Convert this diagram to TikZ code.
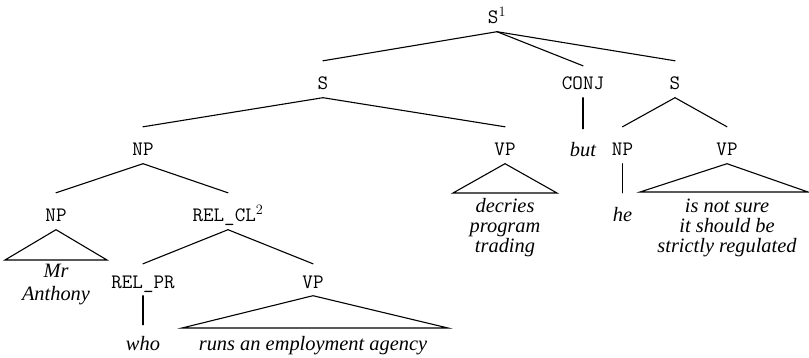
\documentclass[tikz,border=0pt]{standalone}
\usepackage{fontspec}
\newfontfamily\tms{Liberation Serif}
\newcommand\myleaffont{\fontsize{20.4}{20}\selectfont\tms\itshape\lineskiplimit=-50pt\relax}
\begin{document}
\begin{tikzpicture}[x=1pt,y=-1pt,
  lab/.style={font=\fontsize{20.5}{20}\selectfont\ttfamily, inner sep=0pt, anchor=base, text height=29pt, text depth=7.5pt},
  short/.style={text height=24pt},
  leaf/.style={font=\myleaffont, inner sep=0pt, anchor=base, align=center},
  br/.style={line width=1.1pt, line cap=round},
  tri/.style={line width=1.1pt, line join=miter}]
\useasboundingbox (0,0) rectangle (809,358);
% labels
\node[lab] (s1) at (497,24) {S\textsuperscript{\rmfamily 1}};
\node[lab] (sa) at (323,90) {S};
\node[lab, short] (conj) at (583,90) {CONJ};
\node[lab] (sb) at (675,90) {S};
\node[lab] (np1) at (143,156) {NP};
\node[lab] (vp1) at (505,156) {VP};
\node[lab] (np2) at (622.5,156) {NP};
\node[lab] (vp2) at (727,156) {VP};
\node[lab] (np3) at (56,222) {NP};
\node[lab] (rel) at (228,222) {REL\_CL\textsuperscript{\rmfamily 2}};
\node[lab, short] (relpr) at (143,288) {REL\_PR};
\node[lab, short] (vp3) at (313,288) {VP};
% leaves (base anchor = baseline of the last line)
\node[leaf, text height=28pt] (but) at (583,157) {but};
\node[leaf] (l1) at (56,301) {Mr\\[3pt]Anthony};
\node[leaf] (l2) at (505,253) {decries\\program\\trading};
\node[leaf] (l3) at (727,253) {is not sure\\it should be\\strictly regulated};
\node[leaf, text height=29pt] (he) at (622.5,222) {he};
\node[leaf, text height=25pt] (who) at (143,350) {who};
\node[leaf] (l4) at (313,350) {runs an employment agency};
% triangle corners
\coordinate (t1l) at (5,260);   \coordinate (t1r) at (107,260);
\coordinate (t2l) at (453,193); \coordinate (t2r) at (557,193);
\coordinate (t3l) at (640,192); \coordinate (t3r) at (808,192);
\coordinate (t4l) at (182,328); \coordinate (t4r) at (448,328);
% branches
\draw[br] (s1.south) -- (sa.north);
\draw[br] (s1.south) -- (conj.north);
\draw[br] (s1.south) -- (sb.north);
\draw[br] (sa.south) -- (np1.north);
\draw[br] (sa.south) -- (vp1.north);
\draw[br] (conj.south) -- (but.north);
\draw[br] (sb.south) -- (np2.north);
\draw[br] (sb.south) -- (vp2.north);
\draw[br] (np1.south) -- (np3.north);
\draw[br] (np1.south) -- (rel.north);
\draw[br] (np2.south) -- (he.north);
\draw[br] (rel.south) -- (relpr.north);
\draw[br] (rel.south) -- (vp3.north);
\draw[br] (relpr.south) -- (who.north);
% triangles
\draw[tri] (np3.south) -- (t1l) -- (t1r) -- cycle;
\draw[tri] (vp1.south) -- (t2l) -- (t2r) -- cycle;
\draw[tri] (vp2.south) -- (t3l) -- (t3r) -- cycle;
\draw[tri] (vp3.south) -- (t4l) -- (t4r) -- cycle;
\end{tikzpicture}
\end{document}
